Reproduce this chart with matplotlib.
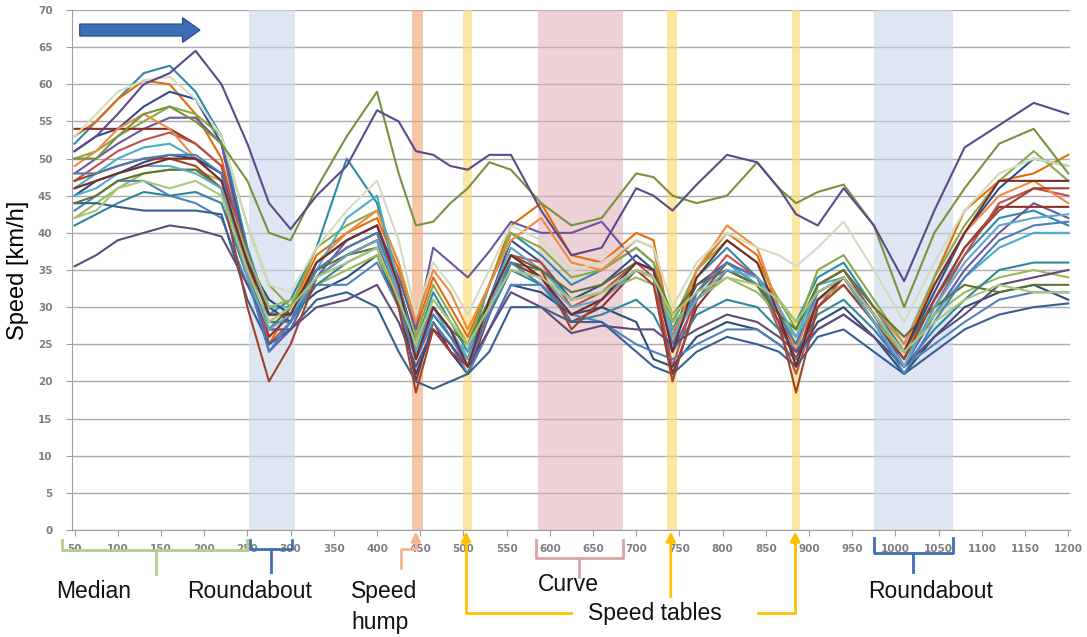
#!/usr/bin/env python

import matplotlib
matplotlib.use('Agg')
import matplotlib.pyplot as plt

plt.rcParams['font.family'] = ['Liberation Sans', 'DejaVu Sans']

# distance along the road [m] at which speeds were read
distance = [50, 75, 100, 130, 160, 190, 220, 250, 275, 300,
            330, 365, 400, 425, 445, 465, 485, 505, 530, 555,
            590, 625, 660, 700, 720, 742, 770, 805, 840, 865,
            885, 910, 940, 975, 1010, 1045, 1080, 1120, 1160, 1200]

# speed [km/h] of each recorded run
run_a = [51, 53, 56, 60, 61.5, 64.5, 60, 52, 44, 40.5, 45, 49, 56.5, 55, 51, 50.5, 49, 48.5, 50.5, 50.5,
         43, 37, 38, 46, 45, 43, 46.5, 50.5, 49.5, 46, 42.5, 41, 46, 41, 33.5, 43, 51.5, 54.5, 57.5, 56]
run_b = [50, 50, 53, 56, 57, 55, 52, 47, 40, 39, 46, 53, 59, 48, 41, 41.5, 44, 46, 49.5, 48.5,
         44, 41, 42, 48, 47.5, 45, 44, 45, 49.5, 46, 44, 45.5, 46.5, 41, 30, 40, 46, 52, 54, 48]
run_c = [52, 55, 58, 61.5, 62.5, 59, 53, 38, 29, 31, 38, 50, 44, 33, 25, 32, 28, 24, 33, 40,
         37, 33, 35, 38, 36, 28, 34, 38, 34, 31, 28, 34, 36, 30, 24, 31, 37, 42, 43, 41]
run_d = [53, 55, 58, 60.5, 60, 56, 50, 36, 25, 30, 37, 40, 42, 35, 27, 34, 30, 26, 33, 41,
         44, 37, 36, 40, 39, 26, 35, 40, 37, 30, 22, 33, 35, 29, 23, 34, 43, 47, 48, 50.5]
run_e = [51, 53, 54, 57, 59, 58, 52, 37, 30, 28, 36, 39, 41, 33, 25, 30, 27, 23, 31, 39,
         36, 31, 33, 37, 35, 27, 33, 36, 33, 28, 25, 32, 34, 29, 24, 32, 40, 46, 50, 49]
run_f = [50, 51, 53, 55, 57, 56, 53, 41, 33, 30, 38, 41, 43, 36, 26, 33, 29, 25, 33, 40,
         38, 34, 35, 38, 36, 28, 35, 39, 36, 31, 27, 35, 37, 31, 25, 34, 41, 47, 51, 47]
run_g = [48, 50, 52, 54, 55.5, 55.5, 52, 36, 24, 27, 34, 39, 41, 34, 27, 38, 36, 34, 37.5, 41.5,
         40, 40, 41.5, 36, 35, 24, 31, 35, 33, 29, 24, 33, 35, 29, 22, 29, 35, 40, 44, 42]
run_h = [54, 54, 54, 54, 54, 52, 49, 35, 26, 29, 35, 38, 40, 32, 20, 28, 24, 21, 29, 36,
         34, 28, 30, 35, 34, 21, 30, 35, 33, 28, 23, 31, 33, 28, 23, 31, 38, 43.5, 43.5, 43.5]
run_i = [47, 49, 51, 52.5, 53.5, 52, 49, 37, 25, 28, 34, 37, 39, 31, 23, 30, 27, 22, 30, 37,
         36, 30, 32, 36, 34, 22, 32, 37, 34, 27, 21, 30, 34, 28, 22, 30, 37, 44, 46, 45]
run_j = [49, 51, 54, 56, 54, 50, 47, 35, 27, 30, 36, 40, 43, 36, 28, 35, 32, 27, 33, 39,
         42, 36, 35, 39, 38, 25, 35, 41, 38, 30, 24, 33, 35, 30, 25, 33, 40, 45, 47, 44]
run_k = [46, 48, 50, 51.5, 52, 50, 48, 36, 30, 30, 35, 42, 45, 33, 24, 30, 26, 24, 31, 38,
         35, 31, 32, 35, 34, 27, 32, 36, 33, 28, 26, 33, 34, 29, 23, 29, 34, 38, 40, 40]
run_l = [45, 47, 48, 49.5, 50.5, 50, 48, 36, 31, 29, 32, 34, 37, 30, 21, 27, 24, 21, 27, 33,
         32, 29, 30, 28, 23, 22, 26, 28, 27, 25, 23, 28, 30, 26, 21, 26, 30, 32, 33, 31]
run_m = [42, 44, 46, 48, 48.5, 48.5, 47, 37, 30, 31, 33, 35, 37, 31, 25, 31, 28, 25, 30, 35,
         34, 31, 32, 34, 33, 28, 31, 34, 32, 29, 26, 31, 33, 28, 24, 29, 32, 34, 35, 34]
run_n = [53, 56, 59, 60.5, 61, 58, 53, 41, 33, 32, 38, 43, 47, 39, 29, 36, 33, 29, 35, 41,
         39, 35, 36, 39, 38, 30, 36, 40, 38, 37, 35.5, 38, 41.5, 35, 28, 36, 43, 48, 50, 49]
run_o = [43, 45, 47, 47, 45, 44, 42, 33, 29, 29, 33, 33, 36, 30, 23, 28, 25, 21, 27, 33,
         33, 29, 28, 25, 24, 23, 25, 27, 27, 25, 23, 27, 29, 26, 22, 25, 28, 31, 32, 32]
run_p = [41, 42.5, 44, 45.5, 45, 45.5, 44, 34, 28, 28, 33, 36, 38, 31, 24, 29, 26, 23, 29, 35,
         33, 28, 29, 31, 29, 24, 29, 31, 30, 27, 24, 29, 31, 27, 22, 27, 31, 35, 36, 36]
run_q = [35.5, 37, 39, 40, 41, 40.5, 39.5, 33, 27, 27, 30, 31, 33, 28, 22, 27, 25, 22, 27, 32,
         30, 26.5, 27.5, 27, 27, 25, 27, 29, 28, 26, 24, 27, 29, 26, 22, 26, 29, 33, 34, 35]
run_r = [44, 44, 43.5, 43, 43, 43, 42.5, 31, 25, 27, 31, 32, 30, 24, 20, 19, 20, 21, 24, 30,
         30, 28, 28, 24, 22, 21, 24, 26, 25, 24, 22, 26, 27, 24, 21, 24, 27, 29, 30, 30.5]
run_s = [47, 48, 49, 50, 50, 49, 46, 30, 20, 25, 34, 37, 39, 30, 18.5, 27, 24, 22, 30, 37,
         35, 27, 31, 35, 33, 20, 31, 36, 34, 28, 18.5, 30, 33, 28, 23, 31, 38, 43, 46, 46]
run_t = [44, 45, 47, 48, 48.5, 48.5, 46, 34, 27, 30, 35, 37, 38, 31, 24, 30, 27, 25, 31, 36,
         35, 32, 33, 36, 35, 29, 33, 35, 33, 29, 27, 33, 35, 30, 26, 30, 33, 32, 33, 33]
run_u = [48, 48, 49, 50, 50.5, 50.5, 48, 34, 24, 28, 35, 38, 40, 32, 23, 29, 26, 22, 29, 36,
         33, 29, 31, 36, 35, 25, 32, 36, 34, 29, 25, 32, 34, 28, 21, 28, 34, 39, 41, 41.5]
run_v = [45, 46, 48, 49, 49, 48, 46, 34, 27, 29, 34, 37, 39, 32, 24, 30, 27, 23, 30, 37,
         34, 30, 31, 35, 34, 26, 31, 35, 34, 30, 26, 31, 34, 28, 22, 30, 36, 41, 42, 42.5]
run_w = [46, 47, 48, 49, 50, 50, 47, 36, 29, 29, 36, 39, 41, 33, 23, 30, 27, 22, 31, 37,
         34, 29, 31, 36, 35, 24, 34, 39, 36, 29, 22, 31, 34, 29, 24, 33, 40, 47, 47, 47]
run_x = [42, 43, 46, 47, 46, 47, 45, 35, 28, 30, 34, 36, 38, 31, 25, 31, 28, 25, 30, 35,
         34, 31, 32, 35, 34, 29, 32, 34, 33, 31, 28, 32, 34, 29, 24, 28, 31, 33, 32, 32]

# road features: (start, end) in metres
roundabout_1 = (252, 305)
speed_hump = (441, 453)
speed_table_1 = (500, 510)
curve = (586, 685)
speed_table_2 = (736, 747)
speed_table_3 = (880, 890)
roundabout_2 = (975, 1067)


def main():

    runs = [run_c, run_d, run_e, run_f, run_g, run_h, run_i, run_j, run_k, run_l,
            run_m, run_n, run_o, run_p, run_q, run_r, run_s, run_t, run_u, run_v,
            run_w, run_x, run_b, run_a]
    colours = ['#2E8BA6', '#E46C0A', '#2F4E8C', '#8AAA48', '#6E56A0', '#8E2F2B',
               '#C0504D', '#F08A3C', '#4BACC6', '#2C4D75', '#9BBB59', '#D2DCC0',
               '#4F81BD', '#31859C', '#604A7B', '#376092', '#A0402E', '#5F7530',
               '#4A7EBB', '#5DA9D0', '#772C2A', '#A9C77A', '#77933C', '#5B4A8B']

    fig = plt.figure(figsize=(10.87, 6.37), dpi=100)
    ax = fig.add_axes([72 / 1087, 107 / 637, 998 / 1087, 520 / 637])

    # shaded road features
    for (x0, x1), col, alp in [(roundabout_1, '#C9D6EC', 0.6), (roundabout_2, '#C9D6EC', 0.6),
                               (speed_hump, '#F0A070', 0.6), (curve, '#DFB0B6', 0.55),
                               (speed_table_1, '#FDD870', 0.65), (speed_table_2, '#FDD870', 0.65),
                               (speed_table_3, '#FDD870', 0.65)]:
        ax.axvspan(x0, x1, color=col, alpha=alp, lw=0, zorder=1)

    for run, col in zip(runs, colours):
        ax.plot(distance, run, color=col, lw=1.5, zorder=3)
    # END for

    ax.set_xlim(47, 1202)
    ax.set_ylim(0, 70)
    ax.set_xticks(range(50, 1201, 50))
    ax.set_yticks(range(0, 71, 5))
    ax.yaxis.grid(True, color='#ABABAB', lw=1)
    ax.set_axisbelow(True)
    for side in ['top', 'right']:
        ax.spines[side].set_visible(False)
    for side in ['left', 'bottom']:
        ax.spines[side].set_color('#A0A0A0')
    ax.tick_params(axis='both', colors='#A0A0A0', labelcolor='#7F7F7F',
                   labelsize=7.5, length=4)
    ax.tick_params(axis='x', pad=6)
    ax.tick_params(axis='y', pad=10)
    for lbl in ax.get_xticklabels() + ax.get_yticklabels():
        lbl.set_fontweight('bold')
        lbl.set_family('DejaVu Sans')

    fig.text(0.017, 0.576, 'Speed [km/h]', rotation=90, va='center', ha='center',
             fontsize=17)

    # direction arrow
    ax.arrow(56, 67.3, 139, 0, width=1.6, head_width=3.3, head_length=20,
             length_includes_head=True, fc='#3F6DB5', ec='#2B4F8A', lw=1, zorder=5)

    # brackets under the axis
    def bracket(x0, x1, xm, col, top, mid, bottom):
        ax.plot([x0, x0, x1, x1], [top, mid, mid, top], color=col, lw=2,
                clip_on=False, solid_joinstyle='round')
        ax.plot([xm, xm], [mid, bottom], color=col, lw=2, clip_on=False)

    bracket(36, 249, 144, '#B3CF8C', -1.3, -2.7, -5.9)
    bracket(253, 302, 277, '#3F6EB5', -1.3, -2.5, -5.7)
    bracket(584, 685, 634, '#DCA3A8', -1.4, -3.8, -6.3)
    bracket(975, 1067, 1020, '#3F6EB5', -1.1, -3.1, -5.7)

    arrow_kw = dict(arrowstyle='-|>', lw=2, mutation_scale=14, shrinkA=0, shrinkB=0)

    # speed hump
    hump_col = '#F5B48C'
    ax.plot([428, 428, 445], [-5.1, -2.5, -2.5], color=hump_col, lw=2, clip_on=False)
    ax.annotate('', xy=(445, -0.2), xytext=(445, -2.6), annotation_clip=False,
                arrowprops=dict(color=hump_col, **arrow_kw))

    # speed tables
    table_col = '#FFC000'
    ax.plot([624, 503, 503], [-11.2, -11.2, -2], color=table_col, lw=2, clip_on=False)
    ax.annotate('', xy=(503, -0.2), xytext=(503, -2.5), annotation_clip=False,
                arrowprops=dict(color=table_col, **arrow_kw))
    ax.annotate('', xy=(740, -0.2), xytext=(740, -9.0), annotation_clip=False,
                arrowprops=dict(color=table_col, **arrow_kw))
    ax.plot([841, 884, 884], [-11.2, -11.2, -2], color=table_col, lw=2, clip_on=False)
    ax.annotate('', xy=(884, -0.2), xytext=(884, -2.5), annotation_clip=False,
                arrowprops=dict(color=table_col, **arrow_kw))

    text_kw = dict(fontsize=16.5, color='#111111', va='center', clip_on=False)
    ax.text(72, -8.3, 'Median', ha='center', **text_kw)
    ax.text(252, -8.3, 'Roundabout', ha='center', **text_kw)
    ax.text(370, -8.3, 'Speed', ha='left', **text_kw)
    ax.text(370, -12.4, 'hump', ha='left', **text_kw)
    ax.text(622, -7.4, 'Curve', ha='center', **text_kw)
    ax.text(722, -11.3, 'Speed tables', ha='center', **text_kw)
    ax.text(1041, -8.3, 'Roundabout', ha='center', **text_kw)

    fig.savefig('out.png', dpi=100)
# END main()


if __name__ == '__main__':
    main()
